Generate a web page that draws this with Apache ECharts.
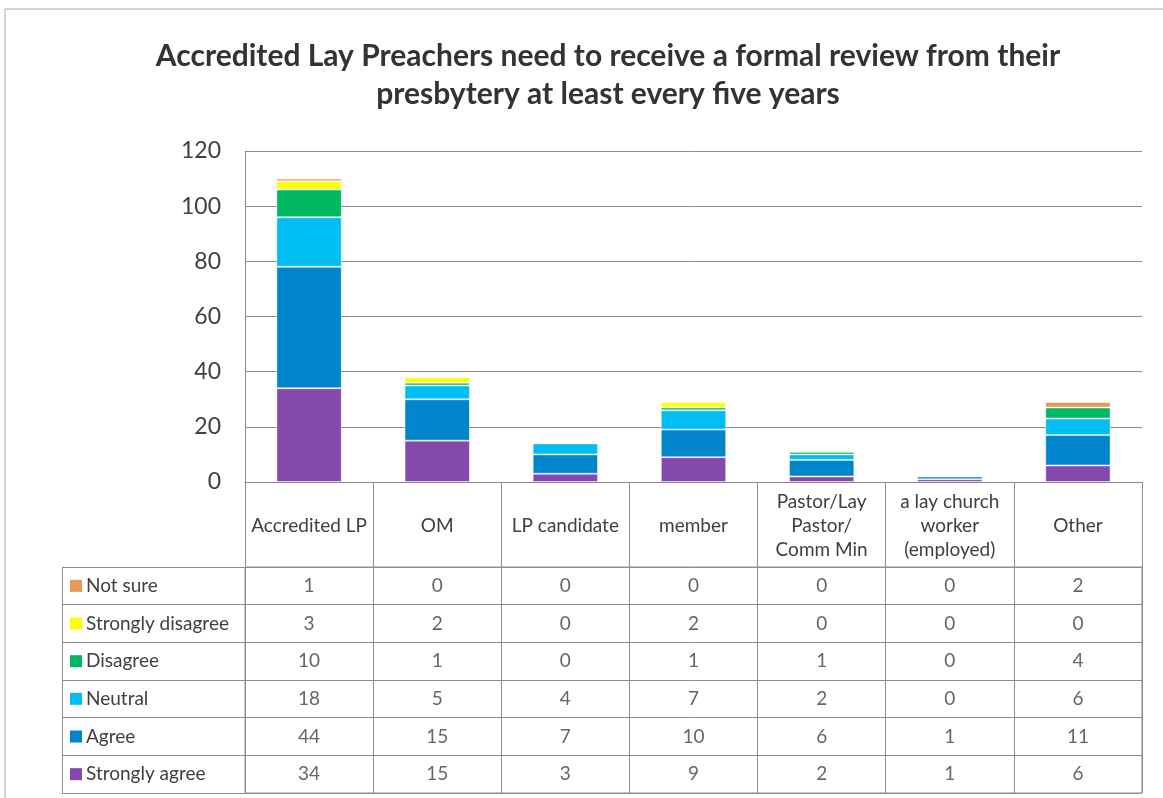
<!DOCTYPE html>
<html>
<head>
<meta charset="utf-8">
<script src="https://cdn.jsdelivr.net/npm/echarts@6/dist/echarts.min.js"></script>
<style>
  html, body { margin: 0; padding: 0; background: #fff; }
  #chart { width: 1163px; height: 798px; }
</style>
</head>
<body>
<div id="chart"></div>
<script>
// categories along the x axis (header row of the data table)
const categories = ["Accredited LP", "OM", "LP candidate", "member",
  "Pastor/Lay\nPastor/\nComm Min", "a lay church\nworker\n(employed)", "Other"];

// table rows, top to bottom
const rowNames = ["Not sure", "Strongly disagree", "Disagree", "Neutral", "Agree", "Strongly agree"];
const rowColors = ["#E59A58", "#FFFF00", "#00B862", "#00BEF2", "#0084CC", "#8549AE"];

const notSure         = [1, 0, 0, 0, 0, 0, 2];
const stronglyDisagree = [3, 2, 0, 2, 0, 0, 0];
const disagree        = [10, 1, 0, 1, 1, 0, 4];
const neutral         = [18, 5, 4, 7, 2, 0, 6];
const agree           = [44, 15, 7, 10, 6, 1, 11];
const stronglyAgree   = [34, 15, 3, 9, 2, 1, 6];
const rowValues = [notSure, stronglyDisagree, disagree, neutral, agree, stronglyAgree];

const yTicks = [0, 20, 40, 60, 80, 100, 120];

const font = "Lato";
const textCol = "#404040";
const lineCol = "#8c8c8c";
const tableSize = 19;

const chart = echarts.init(document.getElementById("chart"));

// stacked bars, bottom-up: strongly agree first
const barSeries = [];
for (let i = rowNames.length - 1; i >= 0; i--) {
  barSeries.push({
    name: rowNames[i],
    type: "bar",
    stack: "total",
    xAxisIndex: 0,
    yAxisIndex: 0,
    barWidth: "51%",
    data: rowValues[i],
    itemStyle: { color: rowColors[i], borderColor: "rgba(255,255,255,0.45)", borderWidth: 1 },
  });
}

// cell values for the table
const cellData = [];
rowValues.forEach((vals, r) => {
  vals.forEach((v, c) => cellData.push([c, r, v]));
});

const rich = {};
rowColors.forEach((c, i) => {
  rich["s" + i] = { backgroundColor: c, width: 12, height: 12 };
});
rich.t = { fontFamily: font, fontSize: tableSize, color: textCol, padding: [0, 0, 0, 4] };

let option = {
  animation: false,
  backgroundColor: "#fff",
  title: {
    text: "Accredited Lay Preachers need to receive a formal review from their\npresbytery at least every five years",
    left: 603,
    top: 32,
    textAlign: "center",
    textStyle: { fontFamily: font, fontWeight: "bold", fontSize: 30, lineHeight: 38, color: "#333" },
  },
  graphic: [{
    type: "rect",
    shape: { x: 5, y: 9, width: 1180, height: 800 },
    style: { fill: "none", stroke: "#aaa", lineWidth: 1 },
    silent: true,
  }],
  grid: [
    { left: 245, top: 151, right: 21, bottom: 316 },
    { left: 245, top: 567, right: 21, bottom: 5, show: true, borderColor: lineCol, borderWidth: 1 },
  ],
  xAxis: [
    {
      type: "category",
      gridIndex: 0,
      data: categories,
      axisLine: { lineStyle: { color: lineCol } },
      axisTick: { show: true, interval: 0, length: 86, inside: false, lineStyle: { color: lineCol } },
      axisLabel: {
        interval: 0, margin: 44, verticalAlign: "middle",
        fontFamily: font, fontSize: tableSize, lineHeight: 24, color: textCol,
      },
    },
    {
      type: "category",
      gridIndex: 1,
      data: categories,
      axisLine: { show: false },
      axisTick: { show: false },
      axisLabel: { show: false },
      splitLine: { show: true, interval: 0, lineStyle: { color: lineCol } },
    },
  ],
  yAxis: [
    {
      type: "value",
      gridIndex: 0,
      min: 0, max: 120, interval: 20,
      axisLine: { show: true, lineStyle: { color: lineCol } },
      axisTick: { show: false },
      axisLabel: {
        margin: 24, fontFamily: font, fontSize: 23, color: textCol,
        formatter: (v) => (yTicks.includes(v) ? String(v) : ""),
      },
      splitLine: { lineStyle: { color: lineCol } },
    },
    {
      type: "category",
      gridIndex: 1,
      data: rowNames,
      inverse: true,
      axisLine: { show: false },
      axisTick: { show: true, interval: 0, length: 183, lineStyle: { color: lineCol } },
      axisLabel: {
        interval: 0, margin: 175, align: "left",
        formatter: (v) => "{s" + rowNames.indexOf(v) + "|}{t|" + v + "}",
        rich: rich,
      },
      splitLine: { show: true, interval: 0, lineStyle: { color: lineCol } },
    },
    {
      type: "category",
      gridIndex: 1,
      data: rowNames,
      inverse: true,
      position: "left",
      offset: 183,
      axisLine: { show: true, lineStyle: { color: lineCol } },
      axisTick: { show: false },
      axisLabel: { show: false },
      splitLine: { show: false },
    },
  ],
  series: barSeries.concat([{
    type: "scatter",
    xAxisIndex: 1,
    yAxisIndex: 1,
    symbolSize: 1,
    itemStyle: { color: "rgba(0,0,0,0)" },
    data: cellData,
    label: {
      show: true, position: "inside",
      formatter: (p) => String(p.value[2]),
      fontFamily: font, fontSize: tableSize, color: textCol,
    },
  }]),
};

chart.setOption(option);
</script>
</body>
</html>
